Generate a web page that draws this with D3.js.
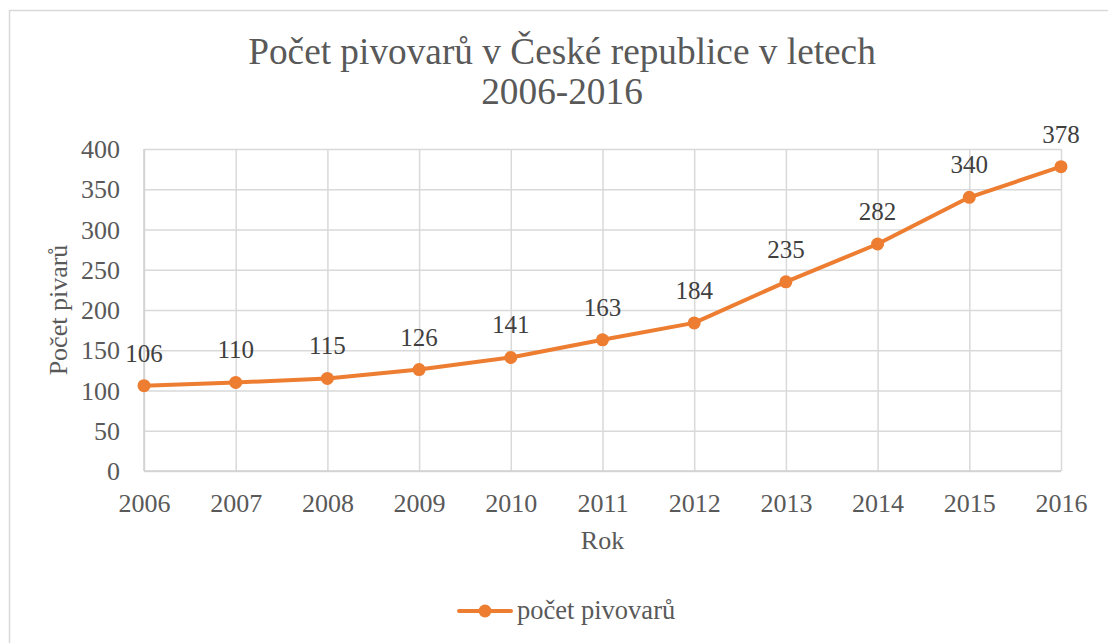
<!DOCTYPE html>
<html>
<head>
<meta charset="utf-8">
<script src="https://cdn.jsdelivr.net/npm/d3@7"></script>
<style>
  html, body { margin: 0; padding: 0; background: #fff; }
  svg { display: block; }
</style>
</head>
<body>
<svg id="chart" width="1108" height="643"></svg>
<script>
const years = ["2006","2007","2008","2009","2010","2011","2012","2013","2014","2015","2016"];
const breweries = [106, 110, 115, 126, 141, 163, 184, 235, 282, 340, 378];
const yTicks = [0, 50, 100, 150, 200, 250, 300, 350, 400];
const titleLines = ["Počet pivovarů v České republice v letech", "2006-2016"];
const xTitle = "Rok";
const yTitle = "Počet pivarů";
const seriesName = "počet pivovarů";

const FONT = "'Liberation Serif', 'Times New Roman', Times, 'DejaVu Serif', serif";
const svg = d3.select("#chart");
const W = 1108, H = 643;
const orange = "#ED7D31";
const grid = "#d9d9d9";

// outer border
svg.append("rect").attr("x", 9.5).attr("y", 10.5).attr("width", W).attr("height", H)
  .attr("fill", "#fff").attr("stroke", "#d9d9d9").attr("stroke-width", 1.5);

const plot = {left: 144, right: 1061, top: 149, bottom: 471};

const x = d3.scalePoint().domain(years).range([plot.left, plot.right]);
const y = d3.scaleLinear().domain([0, 400]).range([plot.bottom, plot.top]);

function txt(sel, size, color) {
  return sel.style("font-family", FONT).style("font-size", size + "px").style("fill", color || "#595959");
}

// title
const title = svg.append("text").attr("text-anchor", "middle");
txt(title, 37.3);
title.selectAll("tspan").data(titleLines).join("tspan")
  .attr("x", 562).attr("y", (d, i) => 64 + i * 40).text(d => d);

// horizontal gridlines
const yAxis = d3.axisLeft(y).tickValues(yTicks).tickSize(-(plot.right - plot.left)).tickPadding(24);
const gy = svg.append("g").attr("transform", `translate(${plot.left},0)`).call(yAxis);
gy.select(".domain").remove();
gy.selectAll(".tick line").attr("stroke", grid).attr("stroke-width", 1.5);
txt(gy.selectAll(".tick text"), 26).attr("x", -24).attr("dy", "0.33em");

// vertical gridlines + x labels
const xAxis = d3.axisBottom(x).tickSize(-(plot.bottom - plot.top)).tickPadding(12);
const gx = svg.append("g").attr("transform", `translate(0,${plot.bottom})`).call(xAxis);
gx.select(".domain").remove();
gx.selectAll(".tick line").attr("stroke", grid).attr("stroke-width", 1.5);
txt(gx.selectAll(".tick text"), 26).attr("y", 41).attr("dy", 0);

// axis lines
svg.append("line").attr("x1", plot.left).attr("x2", plot.right).attr("y1", plot.bottom).attr("y2", plot.bottom)
  .attr("stroke", "#d0d0d0").attr("stroke-width", 1.5);
svg.append("line").attr("x1", plot.left).attr("x2", plot.left).attr("y1", plot.top).attr("y2", plot.bottom)
  .attr("stroke", "#d0d0d0").attr("stroke-width", 1.5);

// axis titles
txt(svg.append("text").attr("x", (plot.left + plot.right) / 2).attr("y", 549)
  .attr("text-anchor", "middle"), 26).text(xTitle);
txt(svg.append("text").attr("transform", `translate(67,${(plot.top + plot.bottom) / 2}) rotate(-90)`)
  .attr("text-anchor", "middle"), 26).text(yTitle);

// line
const data = years.map((yr, i) => ({yr, v: breweries[i]}));
svg.append("path").datum(data)
  .attr("fill", "none").attr("stroke", orange).attr("stroke-width", 4)
  .attr("stroke-linejoin", "round").attr("stroke-linecap", "round")
  .attr("d", d3.line().x(d => x(d.yr)).y(d => y(d.v)));

svg.append("g").selectAll("circle").data(data).join("circle")
  .attr("cx", d => x(d.yr)).attr("cy", d => y(d.v)).attr("r", 6.5).attr("fill", orange);

// data labels
txt(svg.append("g").selectAll("text").data(data).join("text")
  .attr("x", d => x(d.yr)).attr("y", d => y(d.v) - 24)
  .attr("text-anchor", "middle"), 25, "#404040")
  .text(d => d.v);

// legend
const lg = svg.append("g");
lg.append("line").attr("x1", 459).attr("x2", 511).attr("y1", 611).attr("y2", 611)
  .attr("stroke", orange).attr("stroke-width", 4).attr("stroke-linecap", "round");
lg.append("circle").attr("cx", 485).attr("cy", 611).attr("r", 6.5).attr("fill", orange);
txt(lg.append("text").attr("x", 517).attr("y", 619), 26.5).text(seriesName);
</script>
</body>
</html>
